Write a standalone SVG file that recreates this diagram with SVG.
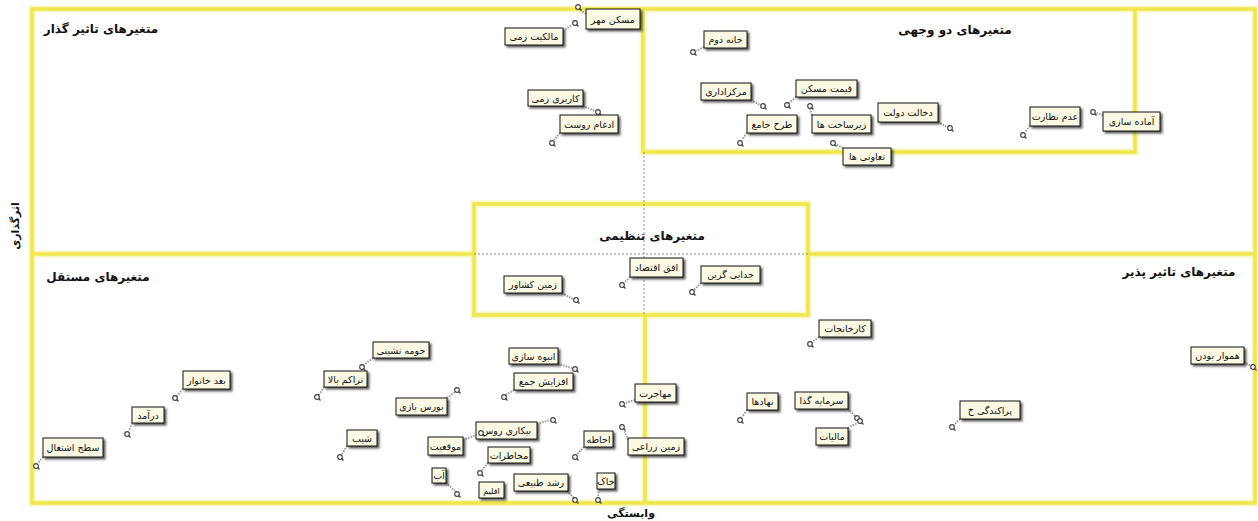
<svg xmlns="http://www.w3.org/2000/svg" xmlns:xlink="http://www.w3.org/1999/xlink" width="1258" height="521" viewBox="0 0 1258 521">
<style>
.yl{fill:none;stroke:#f0e74c;stroke-width:3.5}
.yg{fill:none;stroke:#faf6c0;stroke-width:7}
.dsh{fill:none;stroke:#777;stroke-width:0.8;stroke-dasharray:2 2}
.ttl{font-family:"DejaVu Sans",sans-serif;font-weight:bold;font-size:12px;fill:#111;text-anchor:middle}
.ax{font-family:"DejaVu Sans",sans-serif;font-weight:bold;font-size:11px;fill:#111;text-anchor:middle}
.bx{fill:#fbf9e4;stroke:#111;stroke-width:1;filter:url(#sh)}
.lb{font-family:"DejaVu Sans",sans-serif;font-size:9.5px;fill:#111;text-anchor:middle}
.ld{stroke:#9a9a9a;stroke-width:2;stroke-dasharray:1.5 1.2;fill:none}
.pc{fill:#fff;stroke:#444;stroke-width:1.2}
.pt{stroke:#444;stroke-width:1.2}
</style>
<defs>
<filter id="sh" x="-20%" y="-30%" width="150%" height="180%">
<feDropShadow dx="2" dy="2" stdDeviation="0.8" flood-color="#222" flood-opacity="0.75"/>
</filter>
<g id="pin"><line class="pt" x1="1.5" y1="1.5" x2="3.5" y2="3.5"/><circle class="pc" cx="0" cy="0" r="2.3"/></g>
</defs>
<rect width="1258" height="521" fill="#fff"/>

<g id="frame">
<path class="yg" d="M32,9 H1255 V503 H32 Z M643,9 V152 H1135 V9 M474,204 H808 V315 H474 Z M32,254 H474 M808,254 H1255 M645,315 V503"/>
<path class="yl" d="M32,9 H1255 V503 H32 Z M643,9 V152 H1135 V9 M474,204 H808 V315 H474 Z M32,254 H474 M808,254 H1255 M645,315 V503"/>
<path class="dsh" d="M644,152 V315 M474,254 H808"/>
</g>

<g id="titles">
<text class="ttl" x="101" y="33">متغیرهای تاثیر گذار</text>
<text class="ttl" x="955" y="34">متغیرهای دو وجهی</text>
<text class="ttl" x="652" y="240">متغیرهای تنظیمی</text>
<text class="ttl" x="98" y="281">متغیرهای مستقل</text>
<text class="ttl" x="1179" y="276">متغیرهای تاثیر پذیر</text>
<text class="ax" transform="translate(19,226) rotate(-90)">اثرگذاری</text>
<text class="ax" x="631" y="517">وابستگی</text>
</g>

<g id="connectors">
<line class="ld" x1="586" y1="14" x2="579" y2="9"/><use href="#pin" x="578" y="7"/>
<line class="ld" x1="563" y1="31" x2="572" y2="25"/><use href="#pin" x="575" y="23"/>
<line class="ld" x1="583" y1="106" x2="595" y2="111"/><use href="#pin" x="598" y="112"/>
<line class="ld" x1="560" y1="133" x2="554" y2="140"/><use href="#pin" x="552" y="143"/>
<line class="ld" x1="704" y1="47" x2="696" y2="51"/><use href="#pin" x="693" y="52"/>
<line class="ld" x1="751" y1="100" x2="760" y2="105"/><use href="#pin" x="763" y="106"/>
<line class="ld" x1="796" y1="97" x2="789" y2="103"/><use href="#pin" x="787" y="105"/>
<line class="ld" x1="747" y1="133" x2="742" y2="140"/><use href="#pin" x="740" y="143"/>
<line class="ld" x1="812" y1="115" x2="810" y2="109"/><use href="#pin" x="810" y="106"/>
<line class="ld" x1="938" y1="122" x2="947" y2="127"/><use href="#pin" x="950" y="128"/>
<line class="ld" x1="843" y1="148" x2="836" y2="144"/><use href="#pin" x="833" y="143"/>
<line class="ld" x1="1030" y1="126" x2="1025" y2="132"/><use href="#pin" x="1023" y="135"/>
<line class="ld" x1="1103" y1="115" x2="1096" y2="113"/><use href="#pin" x="1093" y="112"/>
<line class="ld" x1="562" y1="293" x2="573" y2="299"/><use href="#pin" x="576" y="300"/>
<line class="ld" x1="630" y1="277" x2="624" y2="283"/><use href="#pin" x="622" y="285"/>
<line class="ld" x1="701" y1="283" x2="694" y2="290"/><use href="#pin" x="692" y="292"/>
<line class="ld" x1="819" y1="337" x2="812" y2="342"/><use href="#pin" x="810" y="344"/>
<line class="ld" x1="183" y1="389" x2="177" y2="396"/><use href="#pin" x="175" y="398"/>
<line class="ld" x1="132" y1="423" x2="129" y2="431"/><use href="#pin" x="127" y="434"/>
<line class="ld" x1="43" y1="457" x2="38" y2="463"/><use href="#pin" x="36" y="466"/>
<line class="ld" x1="373" y1="358" x2="364" y2="365"/><use href="#pin" x="362" y="367"/>
<line class="ld" x1="324" y1="387" x2="319" y2="395"/><use href="#pin" x="317" y="397"/>
<line class="ld" x1="558" y1="364" x2="572" y2="368"/><use href="#pin" x="575" y="369"/>
<line class="ld" x1="514" y1="390" x2="506" y2="395"/><use href="#pin" x="504" y="397"/>
<line class="ld" x1="447" y1="398" x2="455" y2="392"/><use href="#pin" x="457" y="390"/>
<line class="ld" x1="537" y1="424" x2="550" y2="420"/><use href="#pin" x="553" y="420"/>
<line class="ld" x1="463" y1="440" x2="479" y2="434"/>
<line class="ld" x1="488" y1="463" x2="482" y2="470"/><use href="#pin" x="480" y="473"/>
<line class="ld" x1="347" y1="446" x2="342" y2="454"/><use href="#pin" x="340" y="457"/>
<line class="ld" x1="446" y1="483" x2="455" y2="491"/><use href="#pin" x="457" y="494"/>
<line class="ld" x1="567" y1="491" x2="574" y2="498"/><use href="#pin" x="575" y="500"/>
<line class="ld" x1="584" y1="447" x2="577" y2="454"/><use href="#pin" x="575" y="457"/>
<line class="ld" x1="599" y1="489" x2="598" y2="497"/><use href="#pin" x="598" y="500"/>
<line class="ld" x1="635" y1="400" x2="625" y2="403"/><use href="#pin" x="622" y="404"/>
<line class="ld" x1="628" y1="440" x2="624" y2="430"/><use href="#pin" x="622" y="427"/>
<line class="ld" x1="747" y1="410" x2="742" y2="417"/><use href="#pin" x="740" y="420"/>
<line class="ld" x1="848" y1="409" x2="855" y2="416"/><use href="#pin" x="857" y="418"/>
<line class="ld" x1="848" y1="428" x2="857" y2="423"/><use href="#pin" x="860" y="421"/>
<line class="ld" x1="1244" y1="362" x2="1251" y2="366"/><use href="#pin" x="1253" y="367"/>
<line class="ld" x1="960" y1="419" x2="954" y2="425"/><use href="#pin" x="952" y="427"/>
</g>

<g id="n-maskan-mehr"><rect class="bx" x="586" y="9" width="54" height="20"/><text class="lb" x="613" y="23">مسکن مهر</text></g>
<g id="n-malkiat"><rect class="bx" x="505" y="28" width="58" height="17"/><text class="lb" x="534" y="40">مالکیت زمی</text></g>
<g id="n-karbari"><rect class="bx" x="528" y="90" width="55" height="16"/><text class="lb" x="555.5" y="102">کاربری زمی</text></g>
<g id="n-edgham"><rect class="bx" x="560" y="115" width="58" height="18"/><text class="lb" x="589" y="128">ادغام روست</text></g>
<g id="n-khane"><rect class="bx" x="704" y="31" width="43" height="17"/><text class="lb" x="725.5" y="43">خانه دوم</text></g>
<g id="n-markaz"><rect class="bx" x="701" y="83" width="50" height="17"/><text class="lb" x="726" y="95">مرکزاداری</text></g>
<g id="n-gheimat"><rect class="bx" x="796" y="80" width="61" height="17"/><text class="lb" x="826.5" y="92">قیمت مسکن</text></g>
<g id="n-tarh"><rect class="bx" x="747" y="115" width="50" height="18"/><text class="lb" x="772" y="128">طرح جامع</text></g>
<g id="n-zirsakht"><rect class="bx" x="812" y="115" width="59" height="18"/><text class="lb" x="841.5" y="128">زیرساخت ها</text></g>
<g id="n-dekhalat"><rect class="bx" x="878" y="103" width="60" height="19"/><text class="lb" x="908" y="116">دخالت دولت</text></g>
<g id="n-taavoni"><rect class="bx" x="843" y="148" width="48" height="17"/><text class="lb" x="867" y="160">تعاونی ها</text></g>
<g id="n-adam"><rect class="bx" x="1030" y="107" width="50" height="19"/><text class="lb" x="1055" y="120">عدم نظارت</text></g>
<g id="n-amade"><rect class="bx" x="1103" y="112" width="57" height="19"/><text class="lb" x="1131.5" y="125">آماده سازی</text></g>
<g id="n-zamin-keshavarz"><rect class="bx" x="504" y="276" width="58" height="17"/><text class="lb" x="533" y="288">زمین کشاور</text></g>
<g id="n-ofogh"><rect class="bx" x="630" y="258" width="53" height="19"/><text class="lb" x="656.5" y="271">افق اقتصاد</text></g>
<g id="n-jodaei"><rect class="bx" x="701" y="266" width="59" height="17"/><text class="lb" x="730.5" y="278">جدایی گزین</text></g>
<g id="n-karkhane"><rect class="bx" x="819" y="320" width="52" height="17"/><text class="lb" x="845" y="332">کارخانجات</text></g>
<g id="n-hamvar"><rect class="bx" x="1191" y="347" width="53" height="17"/><text class="lb" x="1217.5" y="359">هموار بودن</text></g>
<g id="n-bod"><rect class="bx" x="183" y="371" width="47" height="18"/><text class="lb" x="206.5" y="384">بعد خانوار</text></g>
<g id="n-daramad"><rect class="bx" x="132" y="407" width="32" height="16"/><text class="lb" x="148" y="419">درآمد</text></g>
<g id="n-sath"><rect class="bx" x="43" y="438" width="60" height="19"/><text class="lb" x="73" y="451">سطح اشتغال</text></g>
<g id="n-hoome"><rect class="bx" x="373" y="342" width="56" height="16"/><text class="lb" x="401" y="354">حومه نشینی</text></g>
<g id="n-tarakom"><rect class="bx" x="324" y="371" width="43" height="16"/><text class="lb" x="345.5" y="383">تراکم بالا</text></g>
<g id="n-anbooh"><rect class="bx" x="509" y="348" width="49" height="16"/><text class="lb" x="533.5" y="360">انبوه سازی</text></g>
<g id="n-afzayesh"><rect class="bx" x="514" y="373" width="59" height="17"/><text class="lb" x="543.5" y="385">افزایش جمع</text></g>
<g id="n-boors"><rect class="bx" x="396" y="398" width="51" height="17"/><text class="lb" x="421.5" y="410">بورس بازی</text></g>
<g id="n-bikari"><rect class="bx" x="476" y="422" width="61" height="17"/><text class="lb" x="506.5" y="434">بیکاری روس</text></g>
<g id="n-mogheiat"><rect class="bx" x="428" y="437" width="35" height="18"/><text class="lb" x="445.5" y="450">موقعیت</text></g>
<use href="#pin" x="481" y="433"/>
<g id="n-makhaterat"><rect class="bx" x="488" y="447" width="42" height="16"/><text class="lb" x="509" y="459">مخاطرات</text></g>
<g id="n-shib"><rect class="bx" x="347" y="430" width="30" height="16"/><text class="lb" x="362" y="442">شیب</text></g>
<g id="n-ab"><rect class="bx" x="432" y="468" width="14" height="15"/><text class="lb" x="439" y="479">آب</text></g>
<g id="n-eghlim"><rect class="bx" x="479" y="482" width="25" height="16"/><text class="lb" x="491.5" y="494" style="font-size:8px">اقلیم</text></g>
<g id="n-roshd"><rect class="bx" x="514" y="474" width="54" height="17"/><text class="lb" x="541" y="486">رشد طبیعی</text></g>
<g id="n-ehate"><rect class="bx" x="584" y="431" width="29" height="16"/><text class="lb" x="598.5" y="443">احاطه</text></g>
<g id="n-khak"><rect class="bx" x="597" y="473" width="18" height="16"/><text class="lb" x="606" y="485">خاک</text></g>
<g id="n-mohajerat"><rect class="bx" x="635" y="384" width="41" height="18"/><text class="lb" x="655.5" y="397">مهاجرت</text></g>
<g id="n-zamin-zeraei"><rect class="bx" x="628" y="438" width="56" height="17"/><text class="lb" x="656" y="450">زمین زراعی</text></g>
<g id="n-nahad"><rect class="bx" x="747" y="393" width="31" height="17"/><text class="lb" x="762.5" y="405">نهادها</text></g>
<g id="n-sarmaye"><rect class="bx" x="795" y="392" width="53" height="17"/><text class="lb" x="821.5" y="404">سرمایه گذا</text></g>
<g id="n-maliat"><rect class="bx" x="816" y="428" width="32" height="17"/><text class="lb" x="832" y="440">مالیات</text></g>
<g id="n-parakandegi"><rect class="bx" x="960" y="401" width="60" height="18"/><text class="lb" x="990" y="414">پراکندگی خ</text></g>
</svg>
